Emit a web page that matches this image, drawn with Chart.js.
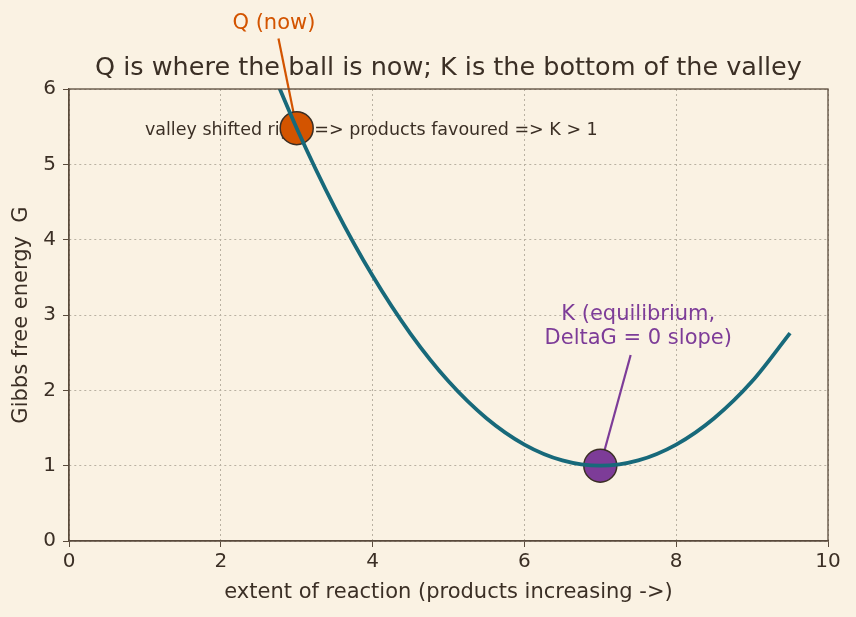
<!DOCTYPE html>
<html>
<head>
<meta charset="utf-8">
<script src="https://cdn.jsdelivr.net/npm/chart.js@4"></script>
<style>
  html, body { margin: 0; padding: 0; background: #faf2e3; }
  #wrap { width: 856px; height: 617px; }
</style>
</head>
<body>
<div id="wrap"><canvas id="c" width="856" height="617"></canvas></div>
<script>
// values
var extentX = [2.5, 3, 3.5, 4, 4.5, 5, 5.5, 6, 6.5, 7, 7.5, 8, 8.5, 9, 9.5];
var gibbsG  = [6.67, 5.48, 4.43, 3.52, 2.75, 2.12, 1.63, 1.28, 1.07, 1.0, 1.07, 1.28, 1.63, 2.12, 2.76];
var qPoint = [3, 5.48];
var kPoint = [7, 1.0];
var xTicks = [0, 2, 4, 6, 8, 10];
var yTicks = [0, 1, 2, 3, 4, 5, 6];

var ink = "#3b2f25";
var spine = "#5a4b3c";
var gridCol = "#b9b1a2";
var orange = "#d35400";
var purple = "#7d3c98";
var font = "'DejaVu Sans', sans-serif";

var curve = [];
for (var i = 0; i < extentX.length; i++) curve.push({x: extentX[i], y: gibbsG[i]});

var annot = {
  id: "annot",
  beforeDatasetsDraw: function(chart) {
    var ctx = chart.ctx, xs = chart.scales.x, ys = chart.scales.y, a = chart.chartArea;
    function px(v) { return xs.getPixelForValue(v); }
    function py(v) { return ys.getPixelForValue(v); }
    ctx.save();
    // title
    ctx.fillStyle = ink;
    ctx.font = "25.5px " + font;
    ctx.textAlign = "center";
    ctx.textBaseline = "middle";
    ctx.fillText("Q is where the ball is now; K is the bottom of the valley", (a.left + a.right) / 2, 68);
    // valley text
    ctx.font = "17.5px " + font;
    ctx.textAlign = "left";
    ctx.fillText("valley shifted right => products favoured => K > 1", px(1), py(5.45));
    // Q label + arrow
    ctx.fillStyle = orange;
    ctx.font = "21px " + font;
    ctx.textAlign = "center";
    ctx.fillText("Q (now)", px(2.7), py(6.87));
    ctx.strokeStyle = orange;
    ctx.lineWidth = 2.2;
    ctx.beginPath();
    ctx.moveTo(px(2.76), py(6.67));
    ctx.lineTo(px(qPoint[0]), py(qPoint[1]));
    ctx.stroke();
    // K label + arrow
    ctx.fillStyle = purple;
    ctx.fillText("K (equilibrium,", px(7.5), py(3.0));
    ctx.fillText("DeltaG = 0 slope)", px(7.5), py(2.69));
    ctx.strokeStyle = purple;
    ctx.beginPath();
    ctx.moveTo(px(7.4), py(2.47));
    ctx.lineTo(px(kPoint[0]), py(kPoint[1]));
    ctx.stroke();
    ctx.restore();
  },
  afterDraw: function(chart) {
    var ctx = chart.ctx, a = chart.chartArea;
    ctx.save();
    ctx.strokeStyle = spine;
    ctx.lineWidth = 1.3;
    ctx.strokeRect(a.left, a.top, a.right - a.left, a.bottom - a.top);
    ctx.restore();
  }
};

var bg = {
  id: "bg",
  beforeDraw: function(chart) {
    var ctx = chart.ctx;
    ctx.save();
    ctx.fillStyle = "#faf2e3";
    ctx.fillRect(0, 0, chart.width, chart.height);
    ctx.restore();
  }
};

new Chart(document.getElementById("c"), {
  type: "scatter",
  data: {
    datasets: [
      {
        data: curve, showLine: true, borderColor: "#17697a", borderWidth: 3.8,
        pointRadius: 0, cubicInterpolationMode: "monotone", fill: false
      },
      {
        data: [{x: qPoint[0], y: qPoint[1]}], pointRadius: 16.5, pointHoverRadius: 16.5,
        backgroundColor: orange, borderColor: ink, borderWidth: 1.5
      },
      {
        data: [{x: kPoint[0], y: kPoint[1]}], pointRadius: 16.5, pointHoverRadius: 16.5,
        backgroundColor: purple, borderColor: ink, borderWidth: 1.5
      }
    ]
  },
  options: {
    responsive: false,
    animation: false,
    layout: { padding: { top: 89, right: 28, left: 0, bottom: 0 } },
    plugins: { legend: { display: false }, tooltip: { enabled: false }, title: { display: false } },
    scales: {
      x: {
        type: "linear", min: 0, max: 10,
        afterBuildTicks: function(s) { s.ticks = xTicks.map(function(v) { return {value: v}; }); },
        afterFit: function(s) { s.height = 76; },
        ticks: { color: ink, font: { family: font, size: 20 }, padding: 3 },
        grid: { color: gridCol, lineWidth: 1, tickColor: spine, tickLength: 6, tickBorderDash: [] },
        border: { color: spine, width: 1.3, dash: [2, 3] },
        title: { display: true, text: "extent of reaction (products increasing ->)", color: ink,
                 font: { family: font, size: 21 }, padding: { top: 2, bottom: 12 } }
      },
      y: {
        type: "linear", min: 0, max: 6,
        afterBuildTicks: function(s) { s.ticks = yTicks.map(function(v) { return {value: v}; }); },
        afterFit: function(s) { s.width = 69; },
        ticks: { color: ink, font: { family: font, size: 20 }, padding: 7 },
        grid: { color: gridCol, lineWidth: 1, tickColor: spine, tickLength: 6, tickBorderDash: [] },
        border: { color: spine, width: 1.3, dash: [2, 3] },
        title: { display: true, text: "Gibbs free energy  G", color: ink,
                 font: { family: font, size: 21 }, padding: { top: 9, bottom: 4 } }
      }
    }
  },
  plugins: [bg, annot]
});
</script>
</body>
</html>
